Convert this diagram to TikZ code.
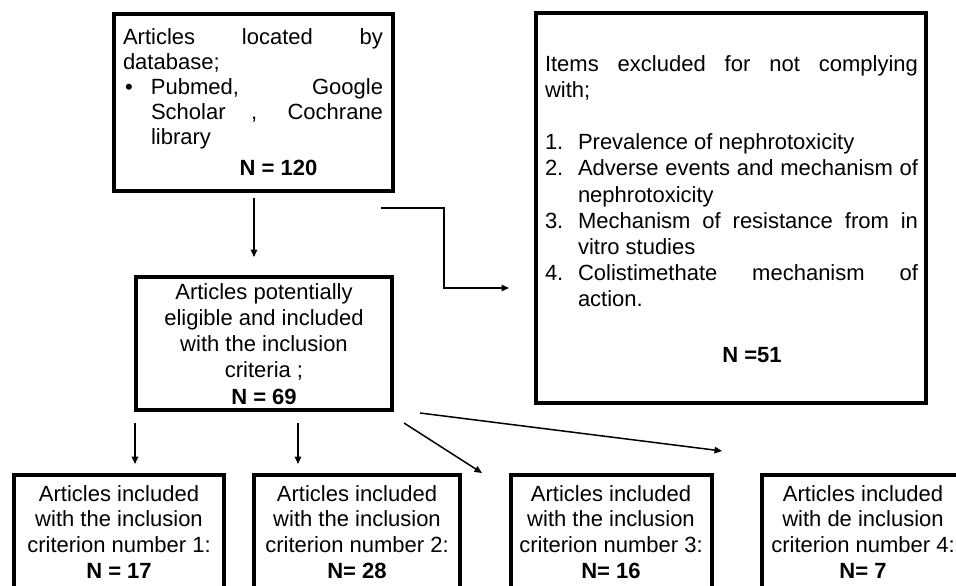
\documentclass[tikz,border=0pt]{standalone}
\usepackage{fontspec}
\setmainfont{Liberation Sans}
\usetikzlibrary{arrows.meta,calc}
\begin{document}
\begin{tikzpicture}[x=1pt,y=-1pt,
  box/.style={draw, line width=4pt, rectangle, inner sep=0pt, outer sep=0pt, anchor=north west},
  arr/.style={line width=1.5pt, -{Triangle[length=7.5pt,width=6.5pt]}},
  txt/.style={inner sep=0pt, outer sep=0pt, font=\fontsize{22pt}{26.3pt}\selectfont},
]
\useasboundingbox (0,0) rectangle (956,586);
\clip (0,0) rectangle (956,586);

% boxes
\node[box, minimum width=279pt, minimum height=177pt] (top) at (114,14) {};
\node[box, minimum width=390pt, minimum height=390pt] (excl) at (536,13) {};
\node[box, minimum width=256pt, minimum height=133pt] (mid) at (136,277) {};
\node[box, minimum width=210pt, minimum height=140pt] (b1) at (14,475) {};
\node[box, minimum width=206pt, minimum height=140pt] (b2) at (254,475) {};
\node[box, minimum width=201pt, minimum height=140pt] (b3) at (511,475) {};
\node[box, minimum width=202pt, minimum height=140pt] (b4) at (762,475) {};

% texts
\node[txt, anchor=base west] (topt) at (123,45) {\parbox[t]{260pt}{\fontsize{22pt}{25pt}\selectfont
\makebox[260pt][s]{Articles located by}\\
database;\\
\makebox[28pt][l]{\hspace*{2pt}\textbullet}\makebox[232pt][s]{Pubmed, Google}\\
\hspace*{28pt}\makebox[232pt][s]{Scholar , Cochrane}\\
\hspace*{28pt}library\\[6pt]
\makebox[260pt]{\hspace{51pt}\textbf{N = 120}}}};

\node[txt, anchor=base west] (exclt) at (545,71) {\parbox[t]{373pt}{\fontsize{22pt}{26.2pt}\selectfont
\makebox[373pt][s]{Items excluded for not complying}\\
with;\\[26.2pt]
\makebox[33pt][l]{1.}Prevalence of nephrotoxicity\\
\makebox[33pt][l]{2.}\makebox[340pt][s]{Adverse events and mechanism of}\\
\hspace*{33pt}nephrotoxicity\\
\makebox[33pt][l]{3.}\makebox[340pt][s]{Mechanism of resistance from in}\\
\hspace*{33pt}vitro studies\\
\makebox[33pt][l]{4.}\makebox[340pt][s]{Colistimethate mechanism of}\\
\hspace*{33pt}action.\\[30pt]
\makebox[373pt]{\hspace{41pt}\textbf{N =51}}}};

\node[txt, anchor=base] (midt) at (264,299) {\parbox[t]{256pt}{\centering\fontsize{22pt}{26.3pt}\selectfont
Articles potentially\\
eligible and included\\
with the inclusion\\
criteria ;\\
\textbf{N = 69}}};

\node[txt, anchor=base] (b1t) at (119,501) {\parbox[t]{210pt}{\centering\fontsize{22pt}{25.8pt}\selectfont
Articles included\\
with the inclusion\\
criterion number 1:\\
\textbf{N = 17}}};
\node[txt, anchor=base] (b2t) at (357,501) {\parbox[t]{210pt}{\centering\fontsize{22pt}{25.8pt}\selectfont
Articles included\\
with the inclusion\\
criterion number 2:\\
\textbf{N= 28}}};
\node[txt, anchor=base] (b3t) at (611,501) {\parbox[t]{210pt}{\centering\fontsize{22pt}{25.8pt}\selectfont
Articles included\\
with the inclusion\\
criterion number 3:\\
\textbf{N= 16}}};
\node[txt, anchor=base] (b4t) at (863,501) {\parbox[t]{210pt}{\centering\fontsize{22pt}{25.8pt}\selectfont
Articles included\\
with de inclusion\\
criterion number 4:\\
\textbf{N= 7}}};

% connectors
\draw[arr] ($(top.south)+(0.5,7)$) -- ($(top.south |- mid.north)+(0.5,-20)$);
\draw[arr] ($(top.east |- excl.west)+(-12,0)$) -- ++(63,0) |- ($(excl.west)+(-27,80)$);
\draw[arr] ($(mid.south west)+(-1,13)$) -- ($(mid.south west |- b1.north)+(-1,-11)$);
\draw[arr] ($(mid.south)+(34,13)$) -- ($(mid.south |- b2.north)+(34,-11)$);
\draw[arr] ($(mid.south east)+(12,13)$) -- ($(b3.north west)+(-29,-2)$);
\draw[arr] ($(mid.south east)+(28,3)$) -- ($(b4.north west)+(-40,-24)$);
\end{tikzpicture}
\end{document}
